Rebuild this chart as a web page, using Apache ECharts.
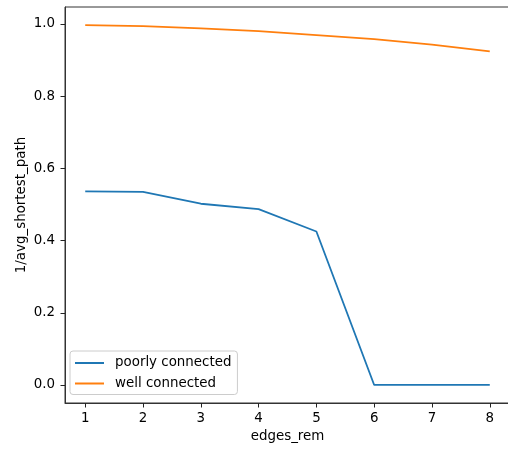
<!DOCTYPE html>
<html>
<head>
<meta charset="utf-8">
<script src="https://cdn.jsdelivr.net/npm/echarts@6/dist/echarts.min.js"></script>
<style>html,body{margin:0;padding:0;background:#fff}#c{width:508px;height:449px}</style>
</head>
<body>
<div id="c"></div>
<script>
const edgesRem = [1, 2, 3, 4, 5, 6, 7, 8];
const poorlyConnected = [0.536, 0.535, 0.502, 0.487, 0.425, 0, 0, 0];
const wellConnected = [0.997, 0.994, 0.988, 0.980, 0.969, 0.958, 0.943, 0.924];
const xTicks = [1, 2, 3, 4, 5, 6, 7, 8];
const yTicks = [0, 0.2, 0.4, 0.6, 0.8, 1.0];

const font = 'DejaVu Sans';
const fs = 13.4;
const chart = echarts.init(document.getElementById('c'), null, {renderer: 'canvas'});
const pair = arr => edgesRem.map((x, i) => [x, arr[i]]);
chart.setOption({
  animation: false,
  backgroundColor: '#fff',
  grid: {left: 65, top: 7, width: 445, bottom: 46, show: true, borderColor: '#333', borderWidth: 1,
    backgroundColor: 'transparent', containLabel: false, outerBoundsMode: 'none'},
  xAxis: {
    type: 'value', min: 0.65, max: 8.35,
    name: 'edges_rem', nameLocation: 'middle', nameGap: 27, nameMoveOverlap: false,
    nameTextStyle: {fontFamily: font, fontSize: fs, color: '#000'},
    axisLine: {show: true, onZero: false, lineStyle: {color: '#333', width: 1}},
    splitLine: {show: false},
    axisTick: {show: true, inside: false, length: 4.5, customValues: xTicks, lineStyle: {color: '#222', width: 1}},
    axisLabel: {show: true, customValues: xTicks, margin: 9, fontFamily: font, fontSize: fs, color: '#000'}
  },
  yAxis: {
    type: 'value', min: -0.05, max: 1.047,
    name: '1/avg_shortest_path', nameLocation: 'middle', nameGap: 37, nameMoveOverlap: false,
    nameTextStyle: {fontFamily: font, fontSize: fs, color: '#000'},
    axisLine: {show: true, onZero: false, lineStyle: {color: '#333', width: 1}},
    splitLine: {show: false},
    axisTick: {show: true, inside: false, length: 4.5, customValues: yTicks, lineStyle: {color: '#222', width: 1}},
    axisLabel: {show: true, customValues: yTicks, margin: 10, fontFamily: font, fontSize: fs, color: '#000',
      formatter: v => Number(v).toFixed(1)}
  },
  legend: {
    orient: 'vertical', left: 70, top: 351,
    padding: [5, 6, 4, 5],
    itemWidth: 29, itemHeight: 2, itemGap: 6.5,
    icon: 'rect',
    borderColor: '#ccc', borderWidth: 1, borderRadius: 3,
    backgroundColor: 'rgba(255,255,255,0.8)',
    textStyle: {fontFamily: font, fontSize: fs, color: '#000', lineHeight: 14, padding: [0, 0, 0, 6]},
    data: ['poorly connected', 'well connected']
  },
  series: [
    {name: 'poorly connected', type: 'line', data: pair(poorlyConnected), showSymbol: false, symbol: 'none',
      lineStyle: {color: '#1f77b4', width: 1.8}, itemStyle: {color: '#1f77b4'}},
    {name: 'well connected', type: 'line', data: pair(wellConnected), showSymbol: false, symbol: 'none',
      lineStyle: {color: '#ff7f0e', width: 1.8}, itemStyle: {color: '#ff7f0e'}}
  ]
});
</script>
</body>
</html>
